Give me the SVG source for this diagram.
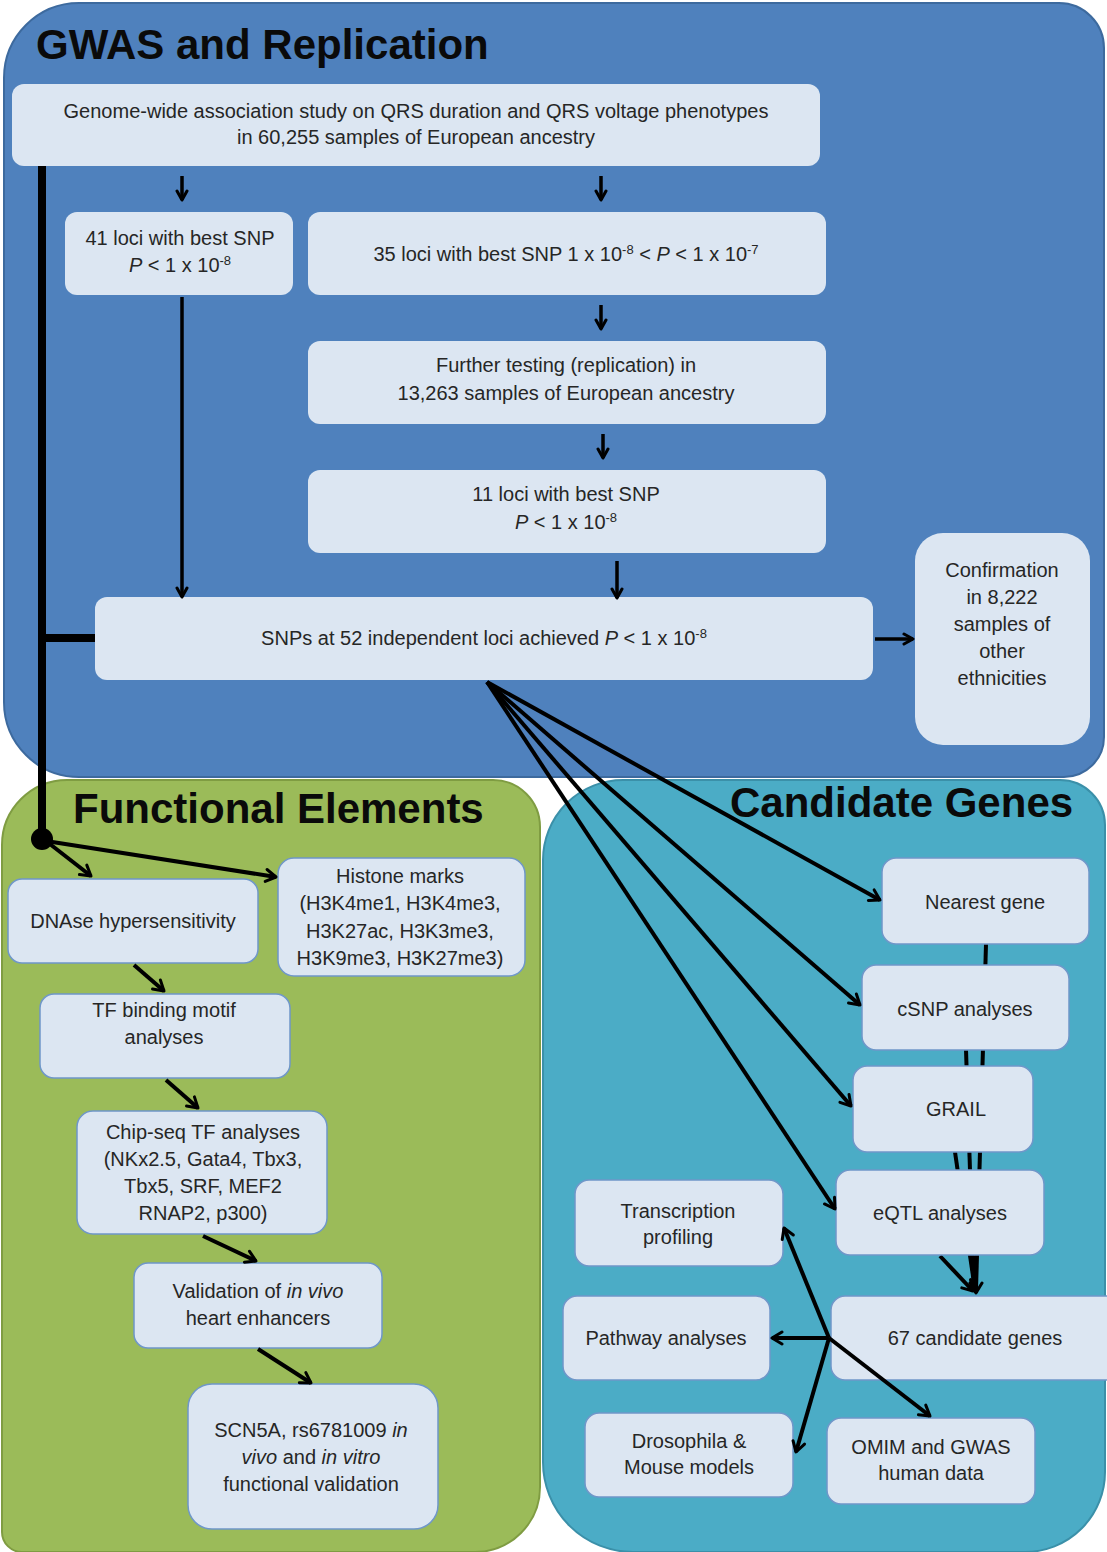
<svg xmlns="http://www.w3.org/2000/svg" width="1107" height="1552" viewBox="0 0 1107 1552">
<defs>
<style>
.box{fill:#DCE6F2;}
.box2{fill:#DCE6F2;stroke:#6f97c9;stroke-width:1.5;}
.t{font-family:"Liberation Sans",Arial,sans-serif;font-size:20px;fill:#262626;text-anchor:middle;}
.title{font-family:"Liberation Sans",Arial,sans-serif;font-weight:bold;font-size:42px;fill:#0a0a0a;}
.ln{stroke:#000;stroke-width:4;fill:none;}
.ln3{stroke:#000;stroke-width:3.5;fill:none;}
.thick{stroke:#000;stroke-width:8;fill:none;}
.i{font-style:italic;}
</style>
<marker id="ah" viewBox="0 0 16 16" refX="13" refY="8" markerWidth="16" markerHeight="16" markerUnits="userSpaceOnUse" orient="auto">
<path d="M3,2 L13,8 L3,14" fill="none" stroke="#000" stroke-width="3" stroke-linecap="round" stroke-linejoin="round"/>
</marker>
<marker id="ahs" viewBox="0 0 14 14" refX="11" refY="7" markerWidth="14" markerHeight="14" markerUnits="userSpaceOnUse" orient="auto">
<path d="M2,2 L11,7 L2,12" fill="none" stroke="#000" stroke-width="3" stroke-linecap="round" stroke-linejoin="round"/>
</marker>
</defs>

<g id="panel-gwas">
<path d="M79,3 H1059 A45,45 0 0 1 1104,48 V737 A40,40 0 0 1 1064,777 H79 A75,75 0 0 1 4,702 V78 A75,75 0 0 1 79,3 Z" fill="#4F81BD" stroke="#3d6a9e" stroke-width="2"/>
<text class="title" x="36" y="59">GWAS and Replication</text>
</g>
<g id="panel-functional">
<path d="M67,780 H493 A47,47 0 0 1 540,827 V1487 A65,65 0 0 1 475,1552 H22 A20,20 0 0 1 2,1532 V845 A65,65 0 0 1 67,780 Z" fill="#9BBB59" stroke="#7f9c42" stroke-width="2"/>
<text class="title" x="73" y="823">Functional Elements</text>
</g>
<g id="panel-candidate">
<path d="M623,780 H1060 A45,45 0 0 1 1105,825 V1472 A80,80 0 0 1 1025,1552 H633 A90,90 0 0 1 543,1462 V860 A80,80 0 0 1 623,780 Z" fill="#4BACC6" stroke="#3b90a9" stroke-width="2"/>
<text class="title" x="730" y="817">Candidate Genes</text>
</g>

<g id="connectors-back">
<line class="ln" x1="986" y1="944" x2="976" y2="1290"/>
<line class="ln" x1="966" y1="1050" x2="974" y2="1290"/>
<line class="ln" x1="955" y1="1152" x2="975" y2="1290"/>
<line class="ln" x1="940" y1="1256" x2="973" y2="1291" marker-end="url(#ah)"/>
<line class="ln" x1="976" y1="1256" x2="976" y2="1293" stroke-width="6" marker-end="url(#ah)"/>
</g>

<g id="gwas-study">
<rect class="box" x="12" y="84" width="808" height="82" rx="12"/>
<text class="t" x="416" y="118">Genome-wide association study on QRS duration and QRS voltage phenotypes</text>
<text class="t" x="416" y="144">in 60,255 samples of European ancestry</text>
</g>
<g id="loci41">
<rect class="box" x="65" y="212" width="228" height="83" rx="12"/>
<text class="t" x="180" y="245">41 loci with best SNP</text>
<text class="t" x="180" y="272"><tspan class="i">P</tspan> &lt; 1 x 10<tspan dy="-7" font-size="13">-8</tspan></text>
</g>
<g id="loci35">
<rect class="box" x="308" y="212" width="518" height="83" rx="12"/>
<text class="t" x="566" y="261">35 loci with best SNP 1 x 10<tspan dy="-7" font-size="13">-8</tspan><tspan dy="7"> &lt; </tspan><tspan class="i">P</tspan> &lt; 1 x 10<tspan dy="-7" font-size="13">-7</tspan></text>
</g>
<g id="replication">
<rect class="box" x="308" y="341" width="518" height="83" rx="12"/>
<text class="t" x="566" y="372">Further testing (replication) in</text>
<text class="t" x="566" y="400">13,263 samples of European ancestry</text>
</g>
<g id="loci11">
<rect class="box" x="308" y="470" width="518" height="83" rx="12"/>
<text class="t" x="566" y="501">11 loci with best SNP</text>
<text class="t" x="566" y="529"><tspan class="i">P</tspan> &lt; 1 x 10<tspan dy="-7" font-size="13">-8</tspan></text>
</g>
<g id="snps52">
<rect class="box" x="95" y="597" width="778" height="83" rx="12"/>
<text class="t" x="484" y="645">SNPs at 52 independent loci achieved <tspan class="i">P</tspan> &lt; 1 x 10<tspan dy="-7" font-size="13">-8</tspan></text>
</g>
<g id="confirmation">
<rect class="box" x="915" y="533" width="175" height="212" rx="28"/>
<text class="t" x="1002" y="577">Confirmation</text>
<text class="t" x="1002" y="604">in 8,222</text>
<text class="t" x="1002" y="631">samples of</text>
<text class="t" x="1002" y="658">other</text>
<text class="t" x="1002" y="685">ethnicities</text>
</g>

<g id="dnase">
<rect class="box2" x="8" y="879" width="250" height="84" rx="14"/>
<text class="t" x="133" y="928">DNAse hypersensitivity</text>
</g>
<g id="histone">
<rect class="box2" x="278" y="858" width="247" height="118" rx="16"/>
<text class="t" x="400" y="883">Histone marks</text>
<text class="t" x="400" y="910">(H3K4me1, H3K4me3,</text>
<text class="t" x="400" y="938">H3K27ac, H3K3me3,</text>
<text class="t" x="400" y="965">H3K9me3, H3K27me3)</text>
</g>
<g id="tf-motif">
<rect class="box2" x="40" y="994" width="250" height="84" rx="14"/>
<text class="t" x="164" y="1017">TF binding motif</text>
<text class="t" x="164" y="1044">analyses</text>
</g>
<g id="chipseq">
<rect class="box2" x="77" y="1111" width="250" height="123" rx="16"/>
<text class="t" x="203" y="1139">Chip-seq TF analyses</text>
<text class="t" x="203" y="1166">(NKx2.5, Gata4, Tbx3,</text>
<text class="t" x="203" y="1193">Tbx5, SRF, MEF2</text>
<text class="t" x="203" y="1220">RNAP2, p300)</text>
</g>
<g id="validation">
<rect class="box2" x="134" y="1263" width="248" height="85" rx="14"/>
<text class="t" x="258" y="1298">Validation of <tspan class="i">in vivo</tspan></text>
<text class="t" x="258" y="1325">heart enhancers</text>
</g>
<g id="scn5a">
<rect class="box2" x="188" y="1384" width="250" height="145" rx="24"/>
<text class="t" x="311" y="1437">SCN5A, rs6781009  <tspan class="i">in</tspan></text>
<text class="t" x="311" y="1464"><tspan class="i">vivo</tspan> and <tspan class="i">in vitro</tspan></text>
<text class="t" x="311" y="1491">functional validation</text>
</g>

<g id="nearest-gene">
<rect class="box2" x="882" y="858" width="207" height="86" rx="14"/>
<text class="t" x="985" y="909">Nearest gene</text>
</g>
<g id="csnp">
<rect class="box2" x="862" y="965" width="207" height="85" rx="14"/>
<text class="t" x="965" y="1016">cSNP analyses</text>
</g>
<g id="grail">
<rect class="box2" x="853" y="1066" width="180" height="86" rx="14"/>
<text class="t" x="956" y="1116">GRAIL</text>
</g>
<g id="eqtl">
<rect class="box2" x="836" y="1170" width="208" height="85" rx="14"/>
<text class="t" x="940" y="1220">eQTL analyses</text>
</g>
<g id="transcription">
<rect class="box2" x="575" y="1180" width="208" height="86" rx="14"/>
<text class="t" x="678" y="1218">Transcription</text>
<text class="t" x="678" y="1244">profiling</text>
</g>
<g id="pathway">
<rect class="box2" x="563" y="1296" width="207" height="84" rx="14"/>
<text class="t" x="666" y="1345">Pathway analyses</text>
</g>
<g id="candidates67">
<rect class="box2" x="831" y="1296" width="290" height="84" rx="14"/>
<text class="t" x="975" y="1345">67 candidate genes</text>
</g>
<g id="drosophila">
<rect class="box2" x="585" y="1413" width="208" height="84" rx="14"/>
<text class="t" x="689" y="1448">Drosophila  &amp;</text>
<text class="t" x="689" y="1474">Mouse models</text>
</g>
<g id="omim">
<rect class="box2" x="827" y="1418" width="208" height="86" rx="14"/>
<text class="t" x="931" y="1454">OMIM and GWAS</text>
<text class="t" x="931" y="1480">human data</text>
</g>

<g id="connectors">
<line class="thick" x1="42" y1="166" x2="42" y2="838"/>
<line class="thick" x1="42" y1="638" x2="95" y2="638"/>
<circle cx="42" cy="839" r="11" fill="#000"/>
<line class="ln3" x1="182" y1="176" x2="182" y2="200" marker-end="url(#ahs)"/>
<line class="ln3" x1="601" y1="176" x2="601" y2="200" marker-end="url(#ahs)"/>
<line class="ln3" x1="601" y1="305" x2="601" y2="329" marker-end="url(#ahs)"/>
<line class="ln3" x1="603" y1="434" x2="603" y2="458" marker-end="url(#ahs)"/>
<line class="ln3" x1="617" y1="561" x2="617" y2="598" marker-end="url(#ahs)"/>
<line class="ln3" x1="182" y1="297" x2="182" y2="597" marker-end="url(#ahs)"/>
<line class="ln3" x1="875" y1="639" x2="913" y2="639" marker-end="url(#ahs)"/>
<line class="ln" x1="487" y1="682" x2="880" y2="900" marker-end="url(#ah)"/>
<line class="ln" x1="487" y1="682" x2="860" y2="1005" marker-end="url(#ah)"/>
<line class="ln" x1="487" y1="682" x2="851" y2="1106" marker-end="url(#ah)"/>
<line class="ln" x1="487" y1="682" x2="835" y2="1209" marker-end="url(#ah)"/>
<line class="ln" x1="46" y1="841" x2="91" y2="876" marker-end="url(#ah)"/>
<line class="ln" x1="46" y1="841" x2="276" y2="877" marker-end="url(#ah)"/>
<line class="ln" x1="134" y1="965" x2="164" y2="991" marker-end="url(#ah)"/>
<line class="ln" x1="166" y1="1080" x2="198" y2="1108" marker-end="url(#ah)"/>
<line class="ln" x1="203" y1="1236" x2="256" y2="1261" marker-end="url(#ah)"/>
<line class="ln" x1="258" y1="1349" x2="311" y2="1383" marker-end="url(#ah)"/>
<line class="ln" x1="829" y1="1338" x2="772" y2="1338" marker-end="url(#ah)"/>
<line class="ln" x1="829" y1="1338" x2="784" y2="1228" marker-end="url(#ah)"/>
<line class="ln" x1="829" y1="1338" x2="796" y2="1452" marker-end="url(#ah)"/>
<line class="ln" x1="829" y1="1338" x2="930" y2="1416" marker-end="url(#ah)"/>
</g>
</svg>
